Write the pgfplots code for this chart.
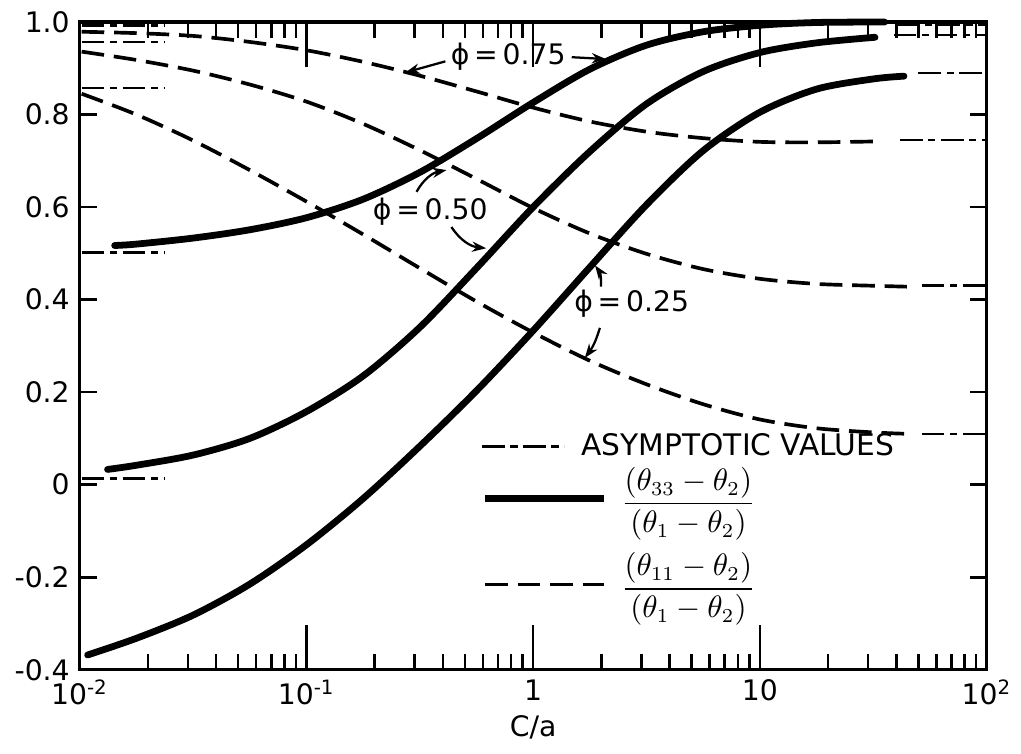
\documentclass[border=0pt]{standalone}
\usepackage{amsmath}
\usepackage{fontspec}
\setmainfont{DejaVu Sans}
\usepackage{pgfplots}
\pgfplotsset{compat=1.18}
\usetikzlibrary{arrows.meta}

\newcommand{\fs}{\fontsize{10}{12}\selectfont}
\newcommand{\fl}{\fontsize{10.5}{12.5}\selectfont}
\tikzset{
  solidc/.style={line width=2.4pt, black, line cap=round, line join=round},
  dashc/.style={line width=1.3pt, black, dash pattern=on 8pt off 3.5pt},
  asym/.style={line width=0.9pt, black, dash pattern=on 8pt off 2pt on 2.5pt off 2pt},
  arr/.style={-{Stealth[length=5pt,width=3.6pt]}, line width=0.8pt, black},
}

\begin{document}
\begin{tikzpicture}
\begin{axis}[name=main,
  scale only axis, width=320.9pt, height=229.2pt,
  xmode=log, xmin=0.01, xmax=100, ymin=-0.4, ymax=1.0,
  axis line style={line width=1.2pt},
  tick align=inside, clip=false,
  every tick/.style={black, line width=0.9pt},
  tick label style={font=\fs},
  label style={font=\fs},
  xtick={0.01,0.1,1,10,100},
  xticklabels={10\textsuperscript{-2},10\textsuperscript{-1},1,10,10\textsuperscript{2}},
  minor xtick={0.02,0.03,0.04,0.05,0.06,0.07,0.08,0.09,0.2,0.3,0.4,0.5,0.6,0.7,0.8,0.9,2,3,4,5,6,7,8,9,20,30,40,50,60,70,80,90},
  ytick=\empty,
  extra y ticks={-0.4,-0.2,0,0.2,0.4,0.6,0.8,1.0},
  extra y tick labels={-0.4,-0.2,0,0.2,0.4,0.6,0.8,1.0},
  extra y tick style={major tick length=6pt},
  major tick length=16pt, minor tick length=5.5pt,
  xlabel={C/a},
  xlabel style={yshift=3pt},
  legend cell align=left,
  legend style={draw=none, fill=none, at={(axis description cs:0.4418,0.3723)}, anchor=north west,
    inner sep=0pt, row sep=0pt, column sep=4pt, font=\fl, nodes={inner sep=1pt}},
]
% solid: phi = 0.75
\addplot[solidc, smooth, forget plot] coordinates {
(0.01426,0.517) (0.017783,0.520) (0.031623,0.533) (0.056234,0.551) (0.1,0.577)
(0.17783,0.617) (0.31623,0.675) (0.56234,0.748) (1,0.826) (1.7783,0.898)
(3.1623,0.950) (5.6234,0.979) (10,0.993) (17.783,0.999) (35.5,1.0)};
% solid: phi = 0.50
\addplot[solidc, smooth, forget plot] coordinates {
(0.01327,0.033) (0.017783,0.042) (0.031623,0.064) (0.056234,0.100) (0.1,0.158)
(0.17783,0.235) (0.31623,0.340) (0.56234,0.468) (1,0.600) (1.7783,0.720)
(3.1623,0.823) (5.6234,0.893) (10,0.934) (17.783,0.955) (32.2,0.967)};
% solid: phi = 0.25
\addplot[solidc, smooth, forget plot] coordinates {
(0.01084,-0.368) (0.017783,-0.332) (0.031623,-0.282) (0.056234,-0.215) (0.1,-0.130)
(0.17783,-0.030) (0.31623,0.083) (0.56234,0.203) (1,0.333) (1.7783,0.470)
(3.1623,0.605) (5.6234,0.722) (10,0.805) (17.783,0.855) (31.623,0.877) (43.2,0.883)};
% dashed: phi = 0.75
\addplot[dashc, smooth, forget plot] coordinates {
(0.0102,0.979) (0.017783,0.976) (0.031623,0.970) (0.056234,0.957) (0.1,0.939)
(0.17783,0.914) (0.31623,0.884) (0.56234,0.850) (1,0.815) (1.7783,0.785)
(3.1623,0.763) (5.6234,0.749) (10,0.741) (17.783,0.740) (33.1,0.742)};
% dashed: phi = 0.50
\addplot[dashc, smooth, forget plot] coordinates {
(0.0102,0.936) (0.017783,0.918) (0.031623,0.895) (0.056234,0.865) (0.1,0.828)
(0.17783,0.780) (0.31623,0.723) (0.56234,0.661) (1,0.598) (1.7783,0.543)
(3.1623,0.499) (5.6234,0.466) (10,0.445) (17.783,0.434) (31.623,0.430) (44.5,0.428)};
% dashed: phi = 0.25
\addplot[dashc, smooth, forget plot] coordinates {
(0.0102,0.845) (0.017783,0.800) (0.031623,0.744) (0.056234,0.680) (0.1,0.612)
(0.17783,0.541) (0.31623,0.468) (0.56234,0.396) (1,0.329) (1.7783,0.268)
(3.1623,0.217) (5.6234,0.174) (10,0.141) (17.783,0.122) (31.623,0.113) (44.5,0.110)};
% asymptotic values, left
\addplot[asym, forget plot] coordinates {(0.0102,0.992) (0.0237,0.992)};
\addplot[asym, forget plot] coordinates {(0.0102,0.957) (0.0237,0.957)};
\addplot[asym, forget plot] coordinates {(0.0102,0.857) (0.0237,0.857)};
\addplot[asym, forget plot] coordinates {(0.0102,0.502) (0.0237,0.502)};
\addplot[asym, forget plot] coordinates {(0.0102,0.013) (0.0237,0.013)};
% asymptotic values, right
\addplot[asym, forget plot] coordinates {(40,0.995) (98,0.995)};
\addplot[asym, forget plot] coordinates {(39,0.972) (98,0.972)};
\addplot[asym, forget plot] coordinates {(50,0.890) (98,0.890)};
\addplot[asym, forget plot] coordinates {(41.5,0.745) (98,0.745)};
\addplot[asym, forget plot] coordinates {(51.8,0.430) (98,0.430)};
\addplot[asym, forget plot] coordinates {(51.8,0.110) (98,0.110)};
% legend
\addlegendimage{legend image code/.code={\path (0pt,-6pt) (0pt,6pt);\draw[asym] (0pt,0pt) -- (29pt,0pt);}}
\addlegendentry{\hspace*{-14pt}\raisebox{-3.83pt}[0pt][0pt]{ASYMPTOTIC VALUES}}
\addlegendimage{legend image code/.code={\path (0pt,-12pt) (0pt,12pt);\draw[solidc, line cap=butt] (1pt,0pt) -- (43pt,0pt);}}
\addlegendentry{\raisebox{-5.3pt}[0pt][0pt]{$\dfrac{(\theta_{33}-\theta_2)}{(\theta_1-\theta_2)}$}}
\addlegendimage{legend image code/.code={\path (0pt,-18pt) (0pt,18pt);\draw[dashc] (1pt,0pt) -- (43pt,0pt);}}
\addlegendentry{\raisebox{-5.0pt}[0pt][0pt]{$\dfrac{(\theta_{11}-\theta_2)}{(\theta_1-\theta_2)}$}}
% annotations
\node[font=\fs] at (axis cs:0.776,0.926) {ϕ\,=\,0.75};
\draw[arr] (axis cs:0.410,0.915) -- (axis cs:0.2735,0.891);
\draw[arr] (axis cs:1.48,0.924) -- (axis cs:2.094,0.920);
\node[font=\fs] at (axis cs:0.352,0.591) {ϕ\,=\,0.50};
\draw[arr] (axis cs:0.306,0.633) to[bend left=25] (axis cs:0.415,0.680);
\draw[arr] (axis cs:0.436,0.557) to[bend right=25] (axis cs:0.621,0.511);
\node[font=\fs] at (axis cs:2.72,0.391) {ϕ\,=\,0.25};
\draw[arr] (axis cs:1.99,0.428) to[bend right=20] (axis cs:1.875,0.474);
\draw[arr] (axis cs:1.97,0.339) to[bend left=10] (axis cs:1.69,0.274);
\end{axis}
\path (main.south west) ++(-28.2pt,-29.6pt);
\path (main.north east) ++(10.9pt,7.8pt);
\end{tikzpicture}
\end{document}
